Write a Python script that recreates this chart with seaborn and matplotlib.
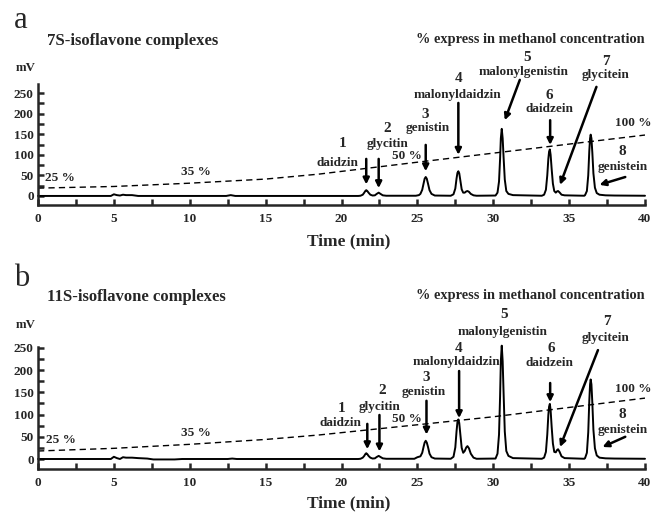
import matplotlib
matplotlib.use("Agg")
import matplotlib.pyplot as plt
import seaborn as sns
import pandas as pd
from matplotlib.ticker import MultipleLocator

# HPLC chromatograms of isoflavones in 7S / 11S complexes
time_a = [0, 4.8, 5.0, 5.2, 5.4, 5.6, 5.8, 6.2, 6.6, 12.4, 12.7, 13.0, 21.1,
          21.25, 21.4, 21.5, 21.57, 21.63, 21.7, 21.78, 21.9, 22.05,
          22.2, 22.32, 22.45, 22.57, 22.72, 22.95,
          24.9, 25.1,
          25.2, 25.32, 25.42, 25.48, 25.55, 25.62, 25.7, 25.8, 25.93, 26.15,
          27.2,
          27.38, 27.5, 27.58, 27.64, 27.7, 27.76, 27.83, 27.92, 28.02, 28.12, 28.22, 28.3, 28.4, 28.52, 28.7, 28.9,
          30.15, 30.28, 30.38, 30.45, 30.5, 30.56, 30.62, 30.68, 30.76, 30.86, 31.0, 31.3, 33.2,
          33.35, 33.47, 33.56, 33.63, 33.68, 33.73, 33.78, 33.85, 33.93, 34.02, 34.12, 34.2, 34.27, 34.36, 34.5, 34.7, 36.0,
          36.05, 36.17, 36.26, 36.33, 36.38, 36.42, 36.47, 36.53, 36.6, 36.7, 36.82, 37.0, 37.4, 38.0, 40.0]
signal_a = [0, 0, 4, 2, 1, 3, 2, 2, 0, 0, 2, 0, 0,
            0.5, 3, 8, 12, 14, 12, 8, 3, 1,
            1.5, 5, 8, 5, 1.5, 0.5,
            0.5, 2,
            5, 15, 32, 42, 46, 42, 30, 14, 5, 1,
            0.5,
            4, 18, 42, 56, 60, 55, 38, 16, 8, 8, 11, 12, 10, 5, 1.5, 0.5,
            1, 8, 35, 90, 140, 163, 140, 95, 40, 12, 5, 2, 0.5,
            3, 15, 50, 90, 108, 113, 100, 65, 30, 12, 8, 11, 12, 9, 3, 1.5, 0.5,
            2, 12, 50, 110, 140, 149, 140, 105, 55, 20, 7, 3, 1.5, 1, 0.5]

time_b = [0, 4.8, 5.0, 5.2, 5.4, 5.6, 5.8, 6.2, 6.6, 7.2, 7.6, 9.0, 9.5, 12.5, 12.8, 13.1, 21.1,
          21.25, 21.4, 21.5, 21.57, 21.63, 21.7, 21.78, 21.9, 22.05,
          22.2, 22.32, 22.45, 22.57, 22.72, 22.95,
          24.8, 25.0, 25.1, 25.2,
          25.32, 25.42, 25.48, 25.55, 25.62, 25.7, 25.8, 25.93, 26.15,
          27.2,
          27.38, 27.5, 27.58, 27.64, 27.7, 27.76, 27.83, 27.92, 28.02, 28.12, 28.22, 28.3, 28.4, 28.52, 28.7, 28.9,
          30.15, 30.28, 30.38, 30.45, 30.5, 30.56, 30.62, 30.68, 30.76, 30.86, 31.0, 31.3, 33.2,
          33.35, 33.47, 33.56, 33.63, 33.68, 33.73, 33.78, 33.85, 33.93, 34.02, 34.12, 34.2, 34.27, 34.36, 34.5, 34.7, 36.0,
          36.05, 36.17, 36.26, 36.33, 36.38, 36.42, 36.47, 36.53, 36.6, 36.7, 36.82, 37.0, 37.4, 38.0, 40.0]
signal_b = [0, 0, 5, 2, 0, 4, 3, 3, 2, 1, -1, -1, 0, 0, 1, 0, 0,
            0.5, 3, 7, 11, 13, 11, 7, 3, 1,
            1.5, 4.5, 7, 4.5, 1.5, 0.5,
            0.5, 4, 5, 6,
            14, 29, 37, 41, 37, 27, 12, 4, 1,
            0.5,
            5, 26, 62, 83, 89, 81, 56, 25, 14, 18, 26, 29, 24, 12, 3, 0.5,
            1, 12, 55, 140, 220, 255, 220, 150, 62, 18, 7, 2, 0.5,
            3, 16, 55, 99, 118, 124, 110, 72, 35, 16, 15, 20, 22, 17, 6, 2, 0.5,
            2, 14, 60, 132, 168, 179, 168, 126, 66, 24, 8, 3, 1.5, 1, 0.5]

# methanol gradient (dashed)
grad_t = [0, 5, 10, 15, 18.5, 25, 30, 35, 40]
grad_a = [19, 23, 31, 41, 53, 82, 104, 126, 148]
grad_b = [18, 24, 33, 44, 54, 77, 95, 116, 137]
grad_labels = ["25 %", "35 %", "50 %", "100 %"]

peak_nums = ["1", "2", "3", "4", "5", "6", "7", "8"]
peak_names = ["daidzin", "glycitin", "genistin", "malonyldaidzin",
              "malonylgenistin", "daidzein", "glycitein", "genistein"]
panel_titles = ["7S-isoflavone complexes", "11S-isoflavone complexes"]

sns.set_theme(style="ticks")
plt.rcParams['font.family'] = ['Liberation Serif', 'DejaVu Serif']
plt.rcParams['font.weight'] = 'bold'

fig = plt.figure(figsize=(6.54, 5.12), dpi=100)
W, H = 654.0, 512.0

def fx(px):
    return px / W

def fy(py):
    return 1 - py / H

# layout: pixel boxes from the reference
ax_a = fig.add_axes([fx(38), fy(205), fx(645) - fx(38), fy(84) - fy(205)])
ax_b = fig.add_axes([fx(38), fy(469), fx(645) - fx(38), fy(347) - fy(469)])

# label positions (time, mV) per panel: number, name, arrow start, arrow end
pos_a = dict(
    nums=[(20.1, 128), (23.0, 164), (25.5, 198), (27.7, 286), (32.2, 337), (33.7, 244), (37.4, 327), (38.5, 108)],
    names=[(19.7, 80), (23.0, 126), (25.7, 165), (27.65, 245), (32.0, 301), (33.7, 211), (37.4, 294), (38.5, 70)],
    arr=[((21.63, 90), (21.63, 28)), ((22.45, 90), (22.45, 19)), ((25.55, 124), (25.55, 60)),
         ((27.7, 226), (27.7, 100)), ((31.75, 282), (30.76, 184)), ((33.75, 184), (33.75, 124)),
         ((36.8, 265), (34.4, 27)), ((38.7, 46), (37.0, 27))],
    grad=[(1.45, 44), (10.4, 58), (24.3, 97), (39.2, 177)],
)
pos_b = dict(
    nums=[(20.0, 114), (22.7, 155), (25.6, 184), (27.7, 249), (30.7, 326), (33.8, 249), (37.5, 310), (38.5, 99)],
    names=[(19.9, 81), (22.5, 117), (25.4, 151), (27.6, 218), (30.6, 286), (33.7, 216), (37.4, 272), (38.5, 65)],
    arr=[((21.7, 79), (21.7, 22)), ((22.5, 99), (22.5, 17)), ((25.6, 131), (25.6, 55)),
         ((27.75, 198), (27.75, 92)), None, ((33.75, 171), (33.75, 128)),
         ((36.9, 245), (34.4, 27)), ((38.7, 50), (37.2, 27))],
    grad=[(1.5, 43), (10.4, 59), (24.3, 90), (39.2, 158)],
)

def draw_panel(ax, t, s, gv, pos, ylim):
    df = pd.DataFrame({"time": t, "mV": s})
    sns.lineplot(data=df, x="time", y="mV", ax=ax, color="black", lw=1.4,
                 estimator=None, sort=False)
    ax.lines[-1].set_clip_on(False)
    sns.lineplot(x=grad_t, y=gv, ax=ax, color="black", lw=1.0,
                 linestyle=(0, (4.5, 3)), estimator=None)
    ax.set_xlim(0, 40)
    ax.set_ylim(*ylim)
    ax.set_xlabel("")
    ax.set_ylabel("")
    ax.xaxis.set_major_locator(MultipleLocator(5))
    ax.xaxis.set_minor_locator(MultipleLocator(2.5))
    ax.yaxis.set_minor_locator(MultipleLocator(25))
    ax.set_yticks([0, 50, 100, 150, 200, 250])
    ax.tick_params(which="both", direction="in", width=1.8, length=4, labelsize=9.5)
    ax.tick_params(axis="x", pad=6)
    ax.tick_params(axis="y", pad=3)
    for lab in ax.get_xticklabels() + ax.get_yticklabels():
        lab.set_fontweight("bold")
    for side in ["top", "right"]:
        ax.spines[side].set_visible(False)
    for side in ["left", "bottom"]:
        ax.spines[side].set_linewidth(1.8)
    ax.set_facecolor("white")

    for i in range(8):
        nx, ny = pos["nums"][i]
        ax.text(nx, ny, peak_nums[i], ha="center", va="center", fontsize=11,
                fontweight="bold", clip_on=False)
        mx, my = pos["names"][i]
        ax.text(mx, my, peak_names[i], ha="center", va="center", fontsize=9.5,
                fontweight="bold", clip_on=False)
        if pos["arr"][i] is not None:
            (x0, y0), (x1, y1) = pos["arr"][i]
            ax.annotate("", xy=(x1, y1), xytext=(x0, y0), annotation_clip=False,
                        arrowprops=dict(arrowstyle="-|>", color="black", lw=1.8,
                                        mutation_scale=9, shrinkA=0, shrinkB=0))
    for lab, (gx, gy) in zip(grad_labels, pos["grad"]):
        ax.text(gx, gy, lab, ha="center", va="center", fontsize=9.5,
                fontweight="bold", clip_on=False)

draw_panel(ax_a, time_a, signal_a, grad_a, pos_a, (-22, 272))
draw_panel(ax_b, time_b, signal_b, grad_b, pos_b, (-22.5, 252))

# figure-level texts
for letter, title, ly, ty, mvy, xly in [("a", panel_titles[0], 21, 41, 68, 241),
                                        ("b", panel_titles[1], 278, 297, 325, 503)]:
    fig.text(fx(14), fy(ly), letter, fontsize=22, fontweight="normal",
             ha="left", va="center")
    fig.text(fx(47), fy(ty), title, fontsize=12, fontweight="bold",
             ha="left", va="center")
    fig.text(fx(645), fy(ty - 1), "% express in methanol concentration", fontsize=10.4,
             fontweight="bold", ha="right", va="center")
    fig.text(fx(16), fy(mvy), "mV", fontsize=9.3, fontweight="bold",
             ha="left", va="center")
    fig.text(fx(349), fy(xly), "Time (min)", fontsize=12.5, fontweight="bold",
             ha="center", va="center")

fig.savefig("out.png", dpi=100, facecolor="white")
